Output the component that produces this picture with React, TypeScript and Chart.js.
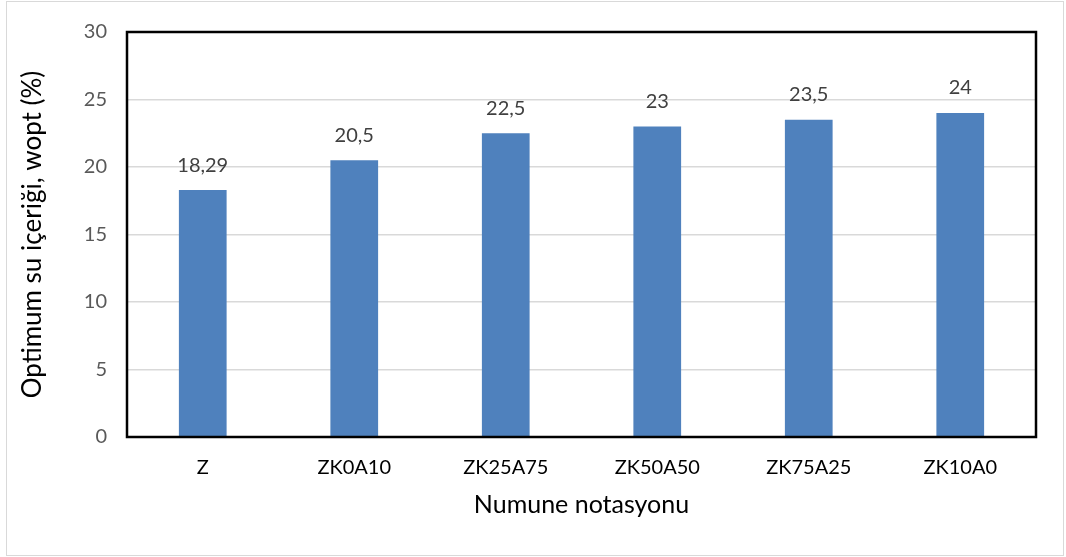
import React, { useEffect, useRef } from "react";
import { Chart, registerables } from "chart.js";

Chart.register(...registerables);

const categories = ["Z", "ZK0A10", "ZK25A75", "ZK50A50", "ZK75A25", "ZK10A0"];
const values = [18.29, 20.5, 22.5, 23, 23.5, 24];
const yTicks = [0, 5, 10, 15, 20, 25, 30];
const yTitle = "Optimum su içeriği, wopt (%)";
const xTitle = "Numune notasyonu";

const FONT = "Lato, 'Open Sans', 'DejaVu Sans', sans-serif";

const fmt = (v: number) => String(v).replace(".", ",");

const labelsPlugin = {
  id: "valueLabels",
  afterDatasetsDraw(chart: any) {
    const ctx = chart.ctx;
    const meta = chart.getDatasetMeta(0);
    ctx.save();
    ctx.font = `20px ${FONT}`;
    ctx.fillStyle = "#404040";
    ctx.textAlign = "center";
    ctx.textBaseline = "middle";
    meta.data.forEach((bar: any, i: number) => {
      ctx.fillText(fmt(values[i]), bar.x, bar.y - 25);
    });
    ctx.restore();
  },
};

const borderPlugin = {
  id: "plotBorder",
  afterDatasetsDraw(chart: any) {
    const { ctx, chartArea } = chart;
    ctx.save();
    ctx.strokeStyle = "#000000";
    ctx.lineWidth = 2.5;
    ctx.strokeRect(chartArea.left, chartArea.top, chartArea.right - chartArea.left, chartArea.bottom - chartArea.top);
    ctx.restore();
  },
};

export default function App() {
  const ref = useRef<HTMLCanvasElement>(null);
  useEffect(() => {
    if (!ref.current) return;
    const chart = new Chart(ref.current, {
      type: "bar",
      data: {
        labels: categories,
        datasets: [
          {
            data: values,
            backgroundColor: "#4f81bd",
            categoryPercentage: 1,
            barPercentage: 0.315,
          },
        ],
      },
      options: {
        animation: false,
        responsive: false,
        maintainAspectRatio: false,
        layout: { padding: { top: 28, left: 0, right: 30, bottom: 0 } },
        plugins: { legend: { display: false }, tooltip: { enabled: false } },
        scales: {
          x: {
            grid: { display: false },
            border: { display: false },
            ticks: { color: "#000000", font: { family: FONT, size: 20 }, padding: 11 },
            title: {
              display: true,
              text: xTitle,
              color: "#000000",
              font: { family: FONT, size: 25 },
              padding: { top: 0, bottom: 37 },
            },
            afterFit: (s: any) => {
              s.height = 120;
            },
          },
          y: {
            min: 0,
            max: 30,
            afterBuildTicks: (s: any) => {
              s.ticks = yTicks.map((v) => ({ value: v }));
            },
            grid: { color: "#d9d9d9", lineWidth: 1.5, drawTicks: false },
            border: { display: false },
            ticks: { color: "#595959", font: { family: FONT, size: 20 }, padding: 20 },
            title: {
              display: true,
              text: yTitle,
              color: "#000000",
              font: { family: FONT, size: 26 },
              padding: { top: 17, bottom: 0 },
            },
            afterFit: (s: any) => {
              s.width = 127;
            },
          },
        },
      },
      plugins: [labelsPlugin, borderPlugin],
    });
    return () => chart.destroy();
  }, []);

  return (
    <div style={{ position: "fixed", left: 0, top: 0, width: 1066, height: 557, background: "#fff" }}>
      <div
        style={{
          position: "absolute",
          left: 6,
          top: 1,
          width: 1056,
          height: 553,
          border: "1px solid #d9d9d9",
        }}
      />
      <canvas ref={ref} width={1066} height={557} style={{ position: "absolute", left: 0, top: 0 }} />
    </div>
  );
}
